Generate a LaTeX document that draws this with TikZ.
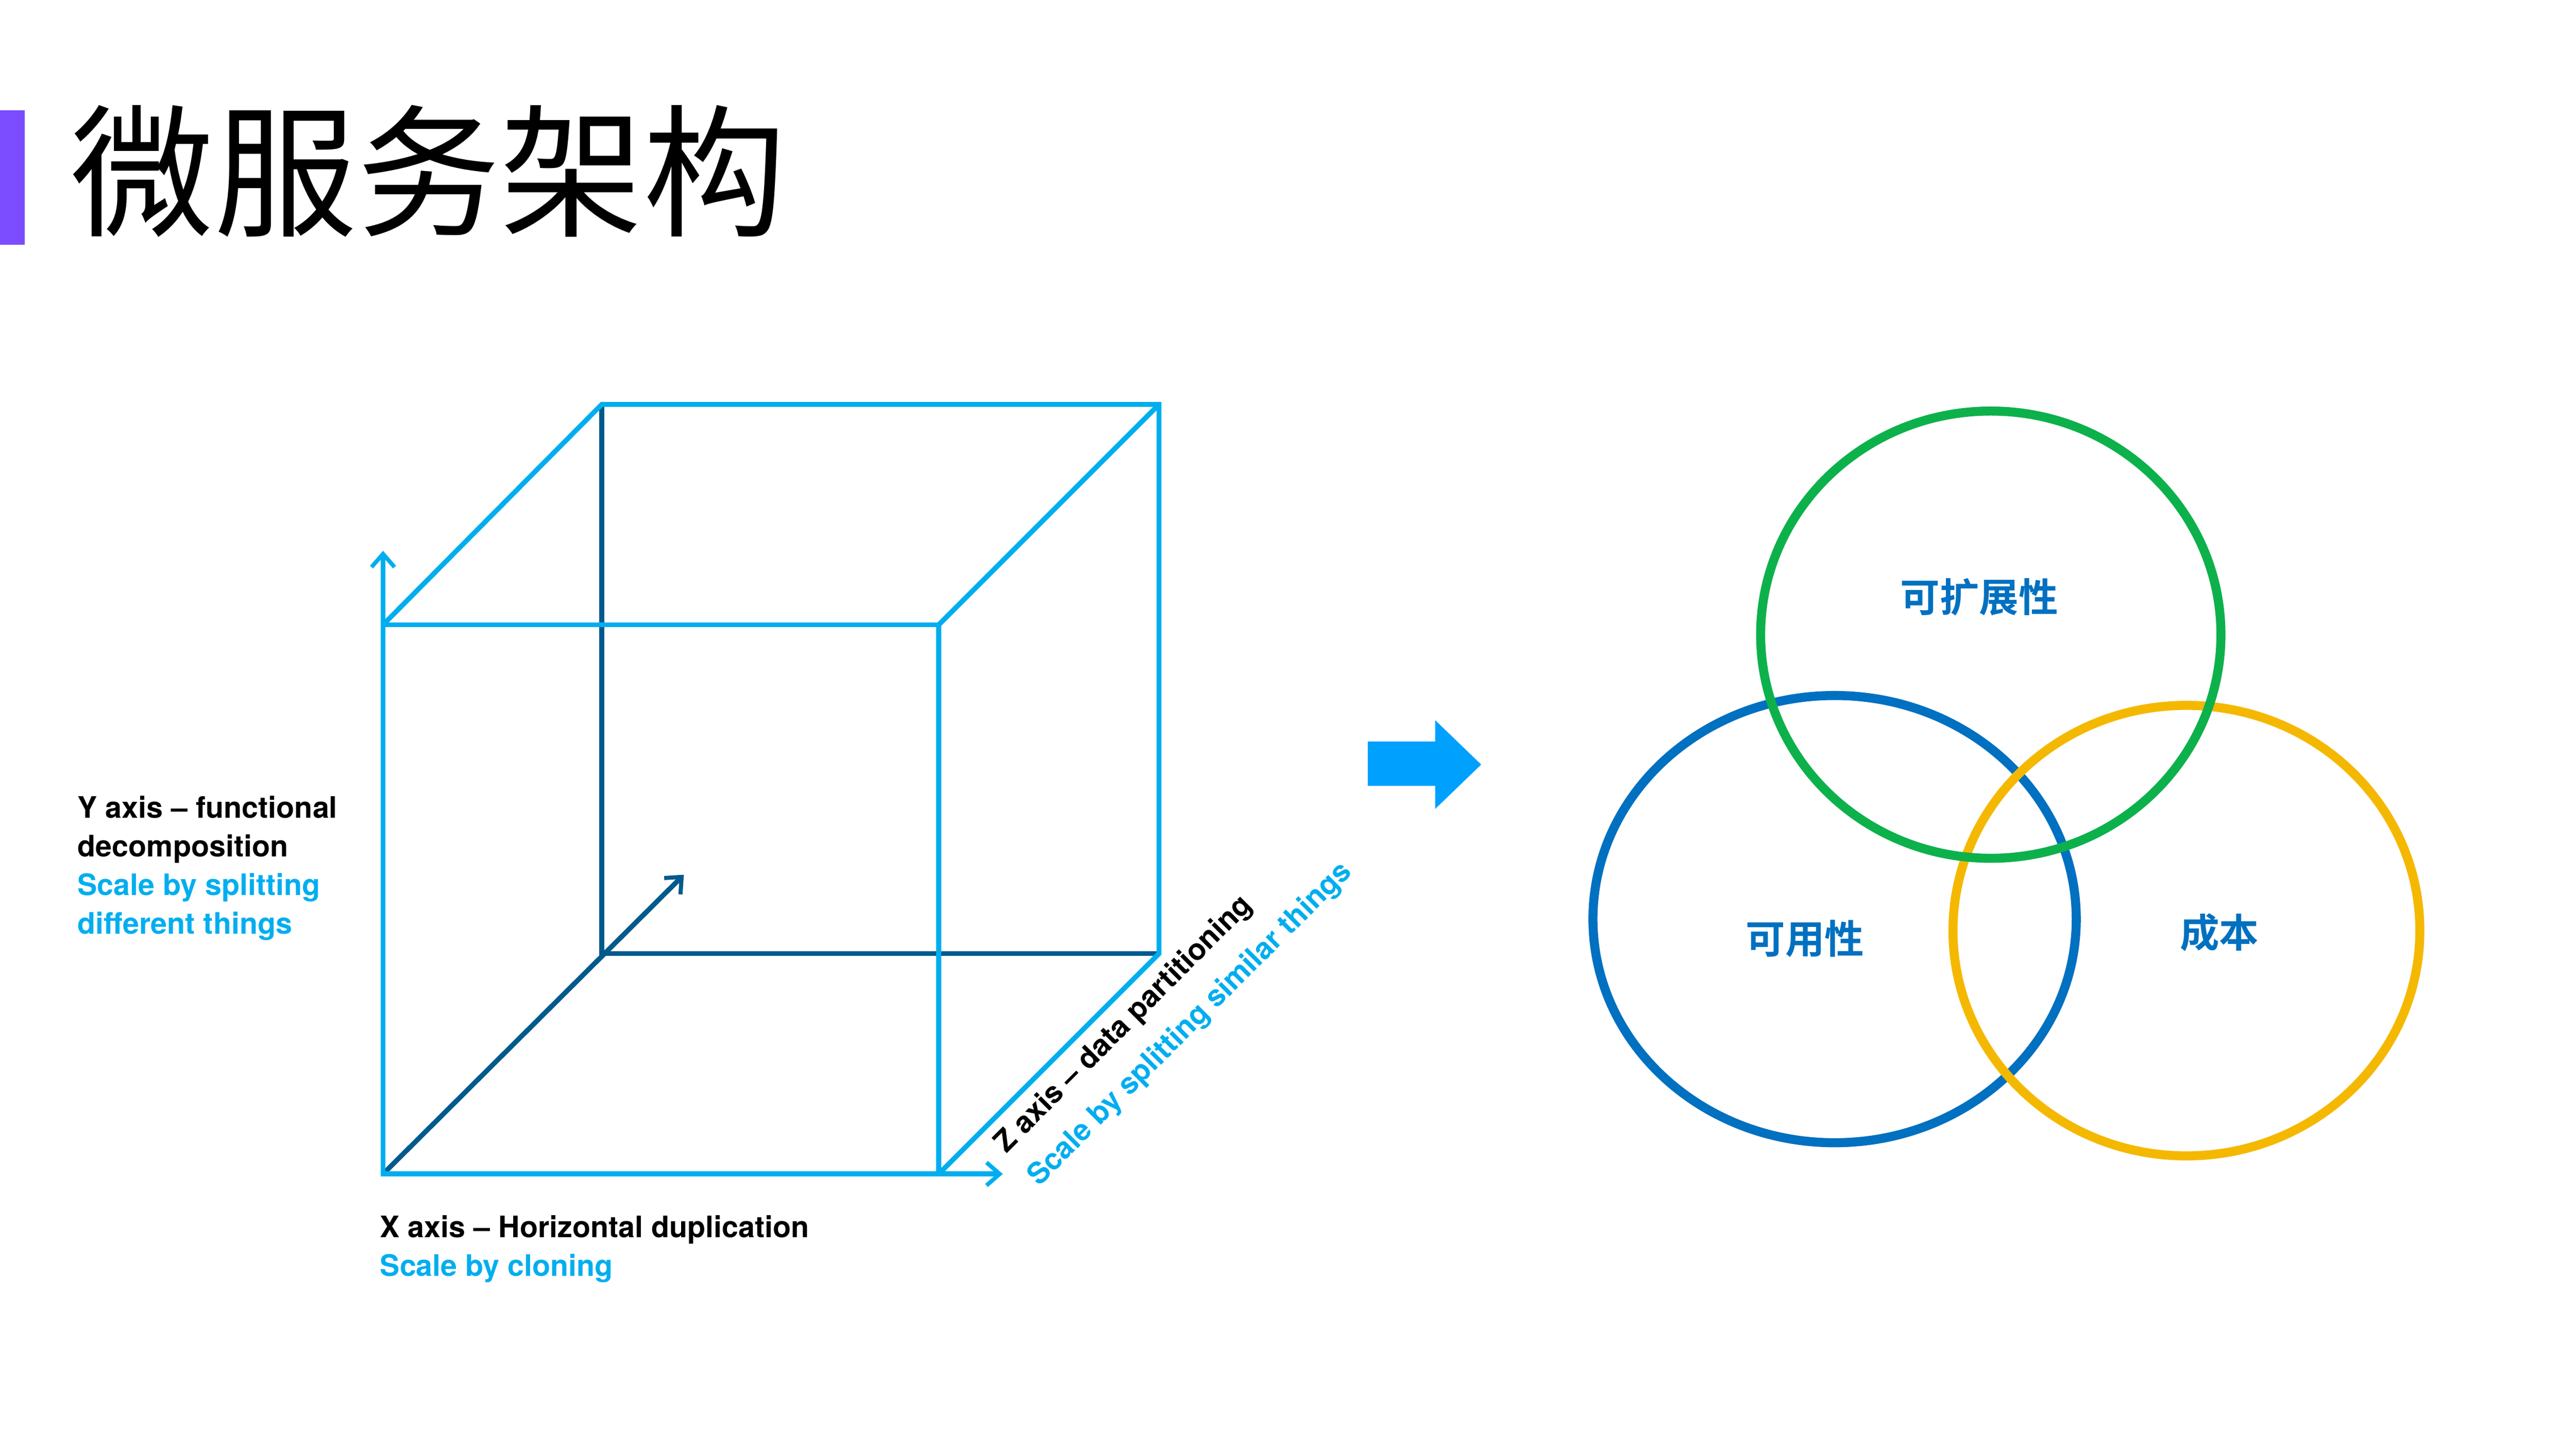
\documentclass[tikz,border=0pt]{standalone}
\usepackage{fontspec}
\setmainfont{TeX Gyre Heros}
\newfontfamily\cjk{Noto Sans CJK SC}
\newfontfamily\cjkb{Noto Sans CJK SC Bold}
\usetikzlibrary{arrows.meta}
\definecolor{lb}{HTML}{00AEEF}
\definecolor{db}{HTML}{005A8C}
\definecolor{pu}{HTML}{7B4DFF}
\definecolor{ab}{HTML}{00A0FF}
\definecolor{cg}{HTML}{0DB14B}
\definecolor{cb}{HTML}{0070C0}
\definecolor{cy}{HTML}{F5B800}
\begin{document}
\begin{tikzpicture}[x=1pt,y=-1pt,
  lt/.style={lb,line width=3pt},
  dk/.style={db,line width=3pt},
  arr/.style={-{Straight Barb[length=8pt,width=14pt,line width=2.5pt]}},
  lbl/.style={font=\fontsize{18}{23.5}\selectfont\bfseries,align=left,inner sep=0pt},
  ring/.style={line width=5.5pt},
  clab/.style={cb,font=\cjkb\fontsize{24}{26}\selectfont,inner sep=0pt}]
\useasboundingbox (0,0) rectangle (1567,881);
\fill[pu] (0,67) rectangle (15,149);
\node[anchor=base west,inner sep=0pt,font=\cjk\fontsize{87}{90}\selectfont] (title) at (43,137) {微服务架构};
% cube coordinates
\coordinate (f1) at (233,380); \coordinate (f2) at (571,380);
\coordinate (f3) at (571,714); \coordinate (f4) at (233,714);
\coordinate (b1) at (366,246); \coordinate (b2) at (705,246);
\coordinate (b3) at (705,580); \coordinate (b4) at (366,580);
\coordinate (zt) at (416,532);
\coordinate (yt) at (233,335);
\coordinate (xs) at (540,714); \coordinate (xt) at (610,714);
\draw[dk] (b1) -- (b4) -- (b3);
\draw[dk,arr] (f4) -- (zt);
\draw[lt] (f1) rectangle (f3);
\draw[lt] (f1) -- (b1) -- (b2) -- (b3) -- (f3);
\draw[lt] (f2) -- (b2);
\draw[lt,arr] (f1) -- (yt);
\draw[lt,arr] (xs) -- (xt);
\node[lbl,anchor=north west] (ylab) at (47,484) {Y axis -- functional\\decomposition\\\textcolor{lb}{Scale by splitting}\\\textcolor{lb}{different things}};
\node[lbl,anchor=north west] (xlab) at (231,739) {X axis -- Horizontal duplication\\\textcolor{lb}{Scale by cloning}};
\node[lbl,anchor=base west,rotate=45] (zlab1) at (612,702) {Z axis -- data partitioning};
\node[lbl,anchor=base west,rotate=45,text=lb] (zlab2) at (632,722) {Scale by splitting similar things};
% big arrow
\fill[ab] (832,451) -- (873,451) -- (873,438) -- (901,465) -- (873,492) -- (873,478) -- (832,478) -- cycle;
% venn
\draw[ring,cb] (1116,559) ellipse [x radius=147,y radius=136];
\draw[ring,cy] (1330,566) ellipse [x radius=142,y radius=137];
\draw[ring,cg] (1211,386) ellipse [x radius=140,y radius=136];
\node[clab] (c1) at (1204,363) {可扩展性};
\node[clab] (c2) at (1098,571) {可用性};
\node[clab] (c3) at (1350,567) {成本};
\end{tikzpicture}
\end{document}
